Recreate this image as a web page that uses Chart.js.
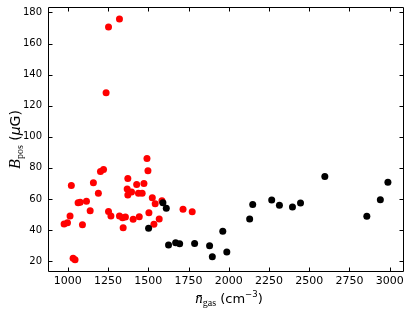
<!DOCTYPE html>
<html><head><meta charset="utf-8">
<script src="https://cdn.jsdelivr.net/npm/chart.js@4.4.1/dist/chart.umd.min.js"></script>
<style>html,body{margin:0;padding:0;background:#fff}canvas{display:block}</style>
</head><body>
<canvas id="c" width="415" height="314"></canvas>
<script>
// --- data ---
const redX = [977, 998, 1014, 1022, 1033, 1045, 1064, 1077, 1091, 1116, 1139, 1159, 1190, 1203, 1222, 1238, 1253, 1253, 1268, 1321, 1321, 1340, 1344, 1358, 1369, 1373, 1373, 1396, 1406, 1428, 1439, 1444, 1462, 1473, 1492, 1498, 1504, 1525, 1535, 1543, 1568, 1585, 1716, 1773];
const redY = [43.9, 44.7, 49.0, 68.7, 21.8, 20.9, 57.6, 57.8, 43.4, 58.6, 52.4, 70.4, 63.6, 77.7, 79.0, 128.3, 170.7, 52.0, 49.0, 175.7, 49.0, 47.9, 41.5, 48.4, 66.4, 73.1, 62.5, 64.4, 46.9, 69.3, 63.6, 48.6, 63.6, 70.0, 86.1, 78.1, 51.1, 60.8, 43.7, 56.9, 47.1, 58.8, 53.3, 51.8];
const blackX = [1502, 1591, 1612, 1626, 1670, 1695, 1788, 1881, 1898, 1963, 1988, 2130, 2149, 2267, 2315, 2396, 2446, 2597, 2858, 2942, 2989];
const blackY = [41.1, 57.6, 54.0, 30.4, 31.8, 31.2, 31.4, 29.9, 22.8, 39.2, 25.9, 47.1, 56.5, 59.3, 55.9, 54.8, 57.4, 74.5, 48.8, 59.5, 70.7];
const xTicks = [1000, 1250, 1500, 1750, 2000, 2250, 2500, 2750, 3000];
const yTicks = [20, 40, 60, 80, 100, 120, 140, 160, 180];
const xRange = [877, 3089];
const yRange = [13, 183.5];

const toPts = (xs, ys) => xs.map((v, i) => ({x: v, y: ys[i]}));

const frameTicks = {
  id: 'frameTicks',
  afterDraw(chart) {
    const {ctx, chartArea: a, scales: {x, y}} = chart;
    ctx.save();
    ctx.strokeStyle = '#000';
    ctx.lineWidth = 1;
    const L = Math.round(a.left) + 0.5, R = Math.round(a.right) - 0.5;
    const T = Math.round(a.top) + 0.5, B = Math.round(a.bottom) - 0.5;
    ctx.beginPath();
    ctx.rect(L, T, R - L, B - T);
    const tl = 4;
    xTicks.forEach(v => {
      const p = Math.round(x.getPixelForValue(v)) + 0.5;
      ctx.moveTo(p, B); ctx.lineTo(p, B - tl);
      ctx.moveTo(p, T); ctx.lineTo(p, T + tl);
    });
    yTicks.forEach(v => {
      const p = Math.round(y.getPixelForValue(v)) + 0.5;
      ctx.moveTo(L, p); ctx.lineTo(L + tl, p);
      ctx.moveTo(R, p); ctx.lineTo(R - tl, p);
    });
    ctx.stroke();

    const drawPieces = (pieces, cx, cy, rot) => {
      ctx.save();
      ctx.translate(cx, cy);
      if (rot) ctx.rotate(rot);
      ctx.fillStyle = '#000';
      ctx.textBaseline = 'alphabetic';
      ctx.textAlign = 'left';
      let w = 0;
      pieces.forEach(p => { ctx.font = p.f; p.w = ctx.measureText(p.t).width; w += p.w; });
      let xx = -w / 2;
      pieces.forEach(p => { ctx.font = p.f; ctx.fillText(p.t, xx, p.dy || 0); xx += p.w; });
      ctx.restore();
    };
    const cxp = (a.left + a.right) / 2, cyp = (a.top + a.bottom) / 2;
    drawPieces([
      {t: 'n\u0304', f: 'italic 15px "Liberation Serif"'},
      {t: 'gas', f: '10px "Liberation Serif"', dy: 3},
      {t: ' (cm', f: '13px "DejaVu Sans"'},
      {t: '\u22123', f: '8.5px "DejaVu Sans"', dy: -6},
      {t: ')', f: '13px "DejaVu Sans"'}
    ], cxp + 3, 303, 0);
    drawPieces([
      {t: 'B', f: 'italic 16px "Liberation Serif"'},
      {t: 'pos', f: '10px "Liberation Serif"', dy: 3},
      {t: ' (', f: '14px "DejaVu Sans"'},
      {t: '\u03bc', f: 'oblique 14px "DejaVu Sans"'},
      {t: 'G)', f: '14px "DejaVu Sans"'}
    ], 20, cyp, -Math.PI / 2);
    ctx.restore();
  }
};

const noPad = s => { s.paddingTop = 0; s.paddingBottom = 0; s.paddingLeft = 0; s.paddingRight = 0; };

new Chart(document.getElementById('c'), {
  type: 'scatter',
  data: {
    datasets: [
      {data: toPts(blackX, blackY), backgroundColor: '#000', borderWidth: 0, pointRadius: 3.5, pointHoverRadius: 3.5},
      {data: toPts(redX, redY), backgroundColor: '#ff0000', borderWidth: 0, pointRadius: 3.5, pointHoverRadius: 3.5}
    ]
  },
  options: {
    responsive: false,
    animation: false,
    devicePixelRatio: 1,
    layout: {padding: {top: 7, right: 11, left: 0, bottom: 0}},
    plugins: {legend: {display: false}, tooltip: {enabled: false}},
    scales: {
      x: {
        type: 'linear', min: xRange[0], max: xRange[1],
        afterBuildTicks: s => { s.ticks = xTicks.map(v => ({value: v})); },
        afterFit: s => { s.height = 42; noPad(s); },
        grid: {display: false, drawTicks: false},
        border: {display: false},
        ticks: {color: '#000', font: {family: 'DejaVu Sans', size: 11}, padding: 3, maxRotation: 0, autoSkip: false, callback: v => String(v)}
      },
      y: {
        type: 'linear', min: yRange[0], max: yRange[1],
        afterBuildTicks: s => { s.ticks = yTicks.map(v => ({value: v})); },
        afterFit: s => { s.width = 48; noPad(s); },
        grid: {display: false, drawTicks: false},
        border: {display: false},
        ticks: {color: '#000', font: {family: 'DejaVu Sans', size: 10}, padding: 6, autoSkip: false, callback: v => String(v)}
      }
    }
  },
  plugins: [frameTicks]
});
</script>
</body></html>
